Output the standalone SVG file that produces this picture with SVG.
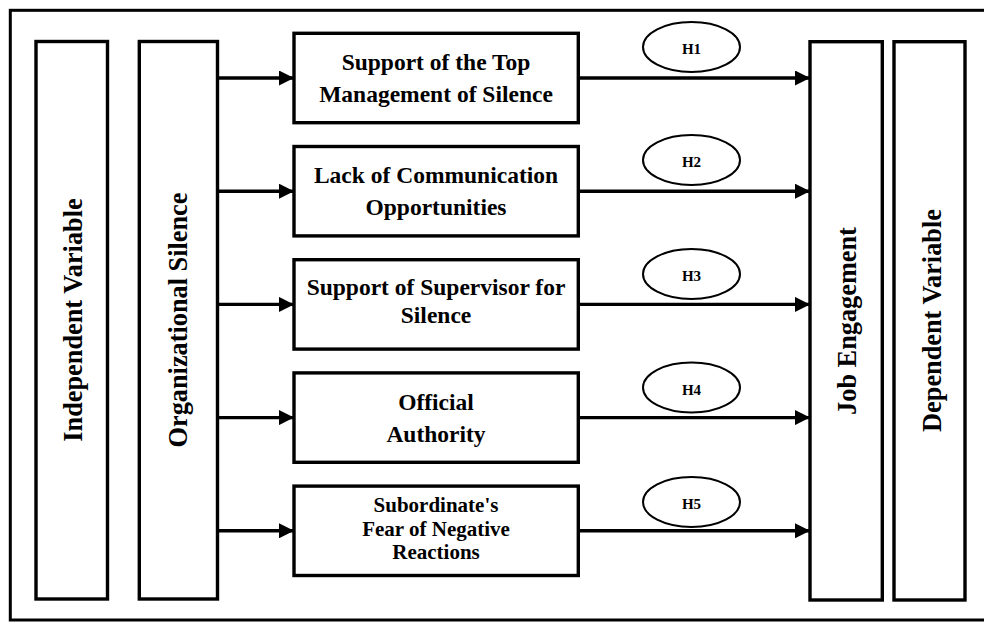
<svg xmlns="http://www.w3.org/2000/svg" width="984" height="622" viewBox="0 0 984 622">
<defs>
<marker id="ah" markerWidth="15" markerHeight="15" viewBox="0 0 15 15" refX="15" refY="7.5" orient="auto" markerUnits="userSpaceOnUse">
<path d="M0,0 L15,7.5 L0,15 Z" fill="#000"/>
</marker>
<style>
.box{fill:#fff;stroke:#000;stroke-width:3.4}
.ell{fill:#fff;stroke:#000;stroke-width:2}
.lbl{font-family:"Liberation Serif","Times New Roman",serif;font-weight:bold;font-size:23.5px;text-anchor:middle;fill:#000}
.sm{font-size:21px}
.vl{font-family:"Liberation Serif","Times New Roman",serif;font-weight:bold;font-size:26.3px;text-anchor:middle;fill:#000}
.h{font-family:"Liberation Serif","Times New Roman",serif;font-weight:bold;font-size:15px;text-anchor:middle;fill:#000}
.con{stroke:#000;stroke-width:3.4;fill:none;marker-end:url(#ah)}
</style>
</defs>
<rect width="984" height="622" fill="#fff"/>
<rect x="10.3" y="10.3" width="990" height="609.7" fill="none" stroke="#000" stroke-width="3"/>

<g id="connectors">
<line class="con" x1="217.5" y1="78" x2="294" y2="78"/>
<line class="con" x1="217.5" y1="191.2" x2="294" y2="191.2"/>
<line class="con" x1="217.5" y1="304.4" x2="294" y2="304.4"/>
<line class="con" x1="217.5" y1="417.6" x2="294" y2="417.6"/>
<line class="con" x1="217.5" y1="530.8" x2="294" y2="530.8"/>
<line class="con" x1="578.3" y1="78" x2="810" y2="78"/>
<line class="con" x1="578.3" y1="191.2" x2="810" y2="191.2"/>
<line class="con" x1="578.3" y1="304.4" x2="810" y2="304.4"/>
<line class="con" x1="578.3" y1="417.6" x2="810" y2="417.6"/>
<line class="con" x1="578.3" y1="530.8" x2="810" y2="530.8"/>
</g>

<g id="independent">
<rect class="box" x="36" y="41.5" width="71.5" height="557.5"/>
<text class="vl" transform="translate(81.5,320) rotate(-90)">Independent Variable</text>
</g>
<g id="organizational-silence">
<rect class="box" x="139.3" y="41.5" width="78.2" height="557.5"/>
<text class="vl" transform="translate(186.5,320) rotate(-90)">Organizational Silence</text>
</g>

<g id="top-management">
<rect class="box" x="294" y="33.3" width="284.3" height="89.4"/>
<text class="lbl" x="436" y="70">Support of the Top</text>
<text class="lbl" x="436" y="102">Management of Silence</text>
</g>
<g id="communication">
<rect class="box" x="294" y="146.5" width="284.3" height="89.4"/>
<text class="lbl" x="436" y="183">Lack of Communication</text>
<text class="lbl" x="436" y="215">Opportunities</text>
</g>
<g id="supervisor">
<rect class="box" x="294" y="259.7" width="284.3" height="89.4"/>
<text class="lbl" x="436" y="295">Support of Supervisor for</text>
<text class="lbl" x="436" y="323">Silence</text>
</g>
<g id="authority">
<rect class="box" x="294" y="372.9" width="284.3" height="89.4"/>
<text class="lbl" x="436" y="410">Official</text>
<text class="lbl" x="436" y="442">Authority</text>
</g>
<g id="fear">
<rect class="box" x="294" y="486.1" width="284.3" height="89.4"/>
<text class="lbl sm" x="436" y="512">Subordinate's</text>
<text class="lbl sm" x="436" y="535.5">Fear of Negative</text>
<text class="lbl sm" x="436" y="559">Reactions</text>
</g>

<g id="h1"><ellipse class="ell" cx="691.5" cy="47" rx="48.5" ry="25"/><text class="h" x="691.5" y="53.5">H1</text></g>
<g id="h2"><ellipse class="ell" cx="691.5" cy="160" rx="48.5" ry="25"/><text class="h" x="691.5" y="167">H2</text></g>
<g id="h3"><ellipse class="ell" cx="691.5" cy="274" rx="48.5" ry="25"/><text class="h" x="691.5" y="281">H3</text></g>
<g id="h4"><ellipse class="ell" cx="691.5" cy="387.5" rx="48.5" ry="25"/><text class="h" x="691.5" y="394.5">H4</text></g>
<g id="h5"><ellipse class="ell" cx="691.5" cy="502" rx="48.5" ry="25"/><text class="h" x="691.5" y="509">H5</text></g>

<g id="job-engagement">
<rect class="box" x="810" y="41.7" width="72.3" height="558.3"/>
<text class="vl" transform="translate(855.5,321) rotate(-90)">Job Engagement</text>
</g>
<g id="dependent">
<rect class="box" x="894" y="41.7" width="71" height="558.3"/>
<text class="vl" transform="translate(940.5,320.5) rotate(-90)">Dependent Variable</text>
</g>
</svg>
